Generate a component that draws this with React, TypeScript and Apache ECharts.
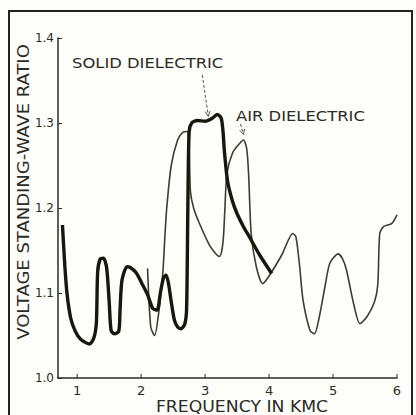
import React, { useEffect, useRef } from "react";
import * as echarts from "echarts";

const yTicks = [1.0, 1.1, 1.2, 1.3, 1.4];
const xTicks = [1, 2, 3, 4, 5, 6];

const solidFreq = [0.77, 0.8, 0.84, 0.9, 0.97, 1.05, 1.19, 1.26, 1.3, 1.32, 1.36, 1.41, 1.46, 1.5, 1.53, 1.58, 1.65, 1.67, 1.7, 1.78, 1.83, 1.92, 2.02, 2.1, 2.18, 2.25, 2.3, 2.35, 2.39, 2.43, 2.47, 2.52, 2.57, 2.62, 2.68, 2.71, 2.73, 2.75, 2.79, 2.88, 3.0, 3.1, 3.19, 3.25, 3.28, 3.3, 3.35, 3.42, 3.49, 3.6, 3.7, 3.85, 4.04];
const solidVswr = [1.18, 1.14, 1.1, 1.07, 1.055, 1.046, 1.04, 1.047, 1.065, 1.125, 1.14, 1.141, 1.13, 1.09, 1.056, 1.052, 1.055, 1.08, 1.115, 1.131, 1.13, 1.124, 1.11, 1.098, 1.082, 1.08, 1.1, 1.118, 1.121, 1.11, 1.09, 1.068, 1.06, 1.058, 1.063, 1.08, 1.2, 1.29, 1.3, 1.303, 1.302, 1.305, 1.31, 1.306, 1.29, 1.268, 1.232, 1.21, 1.195, 1.178, 1.165, 1.145, 1.123];

const airFreq = [2.1, 2.15, 2.21, 2.28, 2.34, 2.37, 2.4, 2.47, 2.57, 2.65, 2.72, 2.75, 2.77, 2.82, 2.91, 3.07, 3.18, 3.23, 3.28, 3.31, 3.34, 3.43, 3.54, 3.6, 3.65, 3.68, 3.72, 3.8, 3.9, 4.0, 4.2, 4.37, 4.42, 4.48, 4.53, 4.64, 4.71, 4.78, 4.88, 4.95, 5.08, 5.15, 5.21, 5.32, 5.42, 5.53, 5.65, 5.7, 5.73, 5.79, 5.92, 6.0];
const airVswr = [1.129, 1.06, 1.05, 1.08, 1.125, 1.165, 1.2, 1.25, 1.28, 1.289, 1.29, 1.27, 1.22, 1.2, 1.182, 1.156, 1.145, 1.143, 1.16, 1.2, 1.24, 1.265, 1.276, 1.28, 1.27, 1.24, 1.17, 1.131, 1.111, 1.12, 1.145, 1.17, 1.166, 1.13, 1.092, 1.056, 1.052, 1.07, 1.11, 1.135, 1.146, 1.14, 1.127, 1.088, 1.064, 1.072, 1.09, 1.11, 1.17, 1.178, 1.182, 1.192];

const xName = "FREQUENCY IN KMC";
const yName = "VOLTAGE STANDING-WAVE RATIO";
const solidLabel = "SOLID DIELECTRIC";
const airLabel = "AIR DIELECTRIC";
const solidTip = [3.05, 1.302];
const airTip = [3.6, 1.283];

const ink = "#2a2b24";
const font = "DejaVu Sans";

export default function App() {
  const ref = useRef<HTMLDivElement>(null);
  useEffect(() => {
    const chart = echarts.init(ref.current!, null, { renderer: "svg" });
    const solid = solidFreq.map((f, i) => [f, solidVswr[i]]);
    const air = airFreq.map((f, i) => [f, airVswr[i]]);
    chart.setOption({
      animation: false,
      backgroundColor: "#fdfdfa",
      grid: { left: 58, right: 19, top: 38, bottom: 37 },
      xAxis: {
        type: "value",
        min: 0.7,
        max: 6,
        axisLine: { lineStyle: { color: ink, width: 1.5 } },
        axisTick: { show: false },
        axisLabel: {
          show: true,
          customValues: xTicks,
          fontFamily: font,
          fontSize: 13,
          color: ink,
          margin: 6,
        },
        splitLine: { show: false },
      },
      yAxis: {
        type: "value",
        min: 1.0,
        max: 1.4,
        interval: 0.1,
        axisLine: { show: true, lineStyle: { color: ink, width: 1.5 } },
        axisTick: { show: true, inside: true, length: 4, lineStyle: { color: ink } },
        axisLabel: {
          formatter: (v: number) => v.toFixed(1),
          fontFamily: font,
          fontSize: 12,
          color: ink,
          margin: 4,
        },
        splitLine: { show: false },
      },
      series: [
        {
          type: "line",
          data: air,
          smooth: 0.25,
          symbol: "none",
          lineStyle: { color: "#3b3e33", width: 1.6 },
          clip: false,
          z: 2,
        },
        {
          type: "line",
          data: solid,
          smooth: 0.25,
          symbol: "none",
          lineStyle: { color: "#17170f", width: 3.4 },
          clip: false,
          z: 3,
        },
      ],
    });
    const xt = xTicks.map((t) => chart.convertToPixel({ gridIndex: 0 }, [t, 1.0]));
    const st = chart.convertToPixel({ gridIndex: 0 }, solidTip);
    const at = chart.convertToPixel({ gridIndex: 0 }, airTip);
    const arrowHead = (x: number, y: number, dx: number, dy: number) => {
      const len = Math.hypot(dx, dy);
      const ux = dx / len, uy = dy / len;
      const px = -uy, py = ux;
      return {
        type: "polyline",
        shape: {
          points: [
            [x - ux * 5 + px * 2.5, y - uy * 5 + py * 2.5],
            [x, y],
            [x - ux * 5 - px * 2.5, y - uy * 5 - py * 2.5],
          ],
        },
        style: { stroke: "#555", lineWidth: 1, fill: null },
      };
    };
    chart.setOption({
      graphic: [
        {
          type: "rect",
          shape: { x: 9, y: 11, width: 403, height: 420 },
          style: { fill: null, stroke: "#222", lineWidth: 2 },
          silent: true,
        },
        ...xt.map((p) => ({
          type: "line",
          shape: { x1: p[0], y1: p[1], x2: p[0], y2: p[1] - 4 },
          style: { stroke: ink, lineWidth: 1 },
        })),
        {
          type: "text",
          x: 242,
          y: 407,
          scaleX: 1.15,
          style: {
            text: xName,
            fontFamily: font,
            fontSize: 15,
            fill: ink,
            align: "center",
            verticalAlign: "middle",
          },
        },
        {
          type: "text",
          x: 24,
          y: 192,
          rotation: Math.PI / 2,
          scaleX: 1.2,
          style: {
            text: yName,
            fontFamily: font,
            fontSize: 15,
            fill: ink,
            align: "center",
            verticalAlign: "middle",
          },
        },
        {
          type: "text",
          x: 72,
          y: 63,
          scaleX: 1.17,
          style: {
            text: solidLabel,
            fontFamily: font,
            fontSize: 14,
            fill: ink,
            verticalAlign: "middle",
          },
        },
        {
          type: "line",
          shape: { x1: st[0] - 6, y1: 75, x2: st[0], y2: st[1] - 5 },
          style: { stroke: "#555", lineWidth: 1, lineDash: [3, 2] },
        },
        arrowHead(st[0], st[1] - 5, 6, st[1] - 80),
        {
          type: "text",
          x: 236,
          y: 116,
          scaleX: 1.17,
          style: {
            text: airLabel,
            fontFamily: font,
            fontSize: 14,
            fill: ink,
            verticalAlign: "middle",
          },
        },
        {
          type: "line",
          shape: { x1: at[0] - 3, y1: 124, x2: at[0], y2: at[1] - 3 },
          style: { stroke: "#555", lineWidth: 1, lineDash: [3, 2] },
        },
        arrowHead(at[0], at[1] - 3, 3, at[1] - 127),
      ],
    });
    return () => chart.dispose();
  }, []);
  return (
    <div
      ref={ref}
      style={{ position: "absolute", left: 0, top: 0, width: 416, height: 415 }}
    />
  );
}
